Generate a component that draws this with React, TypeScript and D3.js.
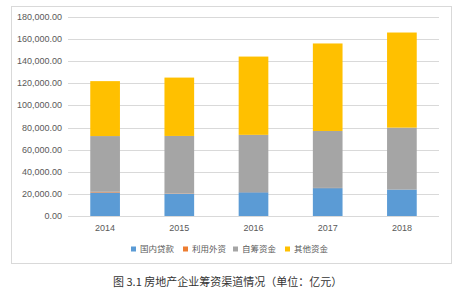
import React from "react";
import * as d3 from "d3";

const years = ["2014", "2015", "2016", "2017", "2018"];
const seriesNames = ["国内贷款", "利用外资", "自筹资金", "其他资金"];
const domesticLoans = [21243, 20214, 21512, 25242, 24005];
const foreignCapital = [640, 297, 140, 168, 108];
const selfRaised = [50420, 51900, 51750, 51500, 55831];
const otherFunds = [49690, 52790, 70810, 79150, 86019];
const yTicks = [0, 20000, 40000, 60000, 80000, 100000, 120000, 140000, 160000, 180000];
const colors = ["#5B9BD5", "#ED7D31", "#A5A5A5", "#FFC000"];
const caption = "图 3.1  房地产企业筹资渠道情况（单位：亿元）";

export default function App() {
  const W = 458, H = 296;
  const x0 = 68, x1 = 439, yTop = 17, yBot = 216;
  const x = d3.scaleBand().domain(years).range([x0, x1]).paddingInner(0.6).paddingOuter(0.3);
  const y = d3.scaleLinear().domain([0, 180000]).range([yBot, yTop]);
  const rows = years.map((yr, i) => ({
    year: yr,
    s0: domesticLoans[i],
    s1: foreignCapital[i],
    s2: selfRaised[i],
    s3: otherFunds[i],
  }));
  const stack = d3.stack<any>().keys(["s0", "s1", "s2", "s3"])(rows);
  const fmt = d3.format(",.2f");
  const legendX = [131, 183, 233, 285];
  return (
    <svg width={W} height={H} style={{ position: "absolute", left: 0, top: 0, background: "#fff" }}>
      <rect x={11.5} y={6.5} width={440} height={257} fill="#fff" stroke="#d9d9d9" />
      {yTicks.map((t) => (
        <g key={t}>
          <line x1={x0} x2={x1} y1={Math.round(y(t)) + 0.5} y2={Math.round(y(t)) + 0.5} stroke="#d9d9d9" />
          <text x={62} y={y(t) + 3} textAnchor="end" fontSize={9} fill="#595959" fontFamily="Liberation Sans, Arial, sans-serif">
            {fmt(t)}
          </text>
        </g>
      ))}
      {stack.map((layer, li) => (
        <g key={li} fill={colors[li]}>
          {layer.map((d: any, i: number) => (
            <rect key={i} x={x(years[i])} width={x.bandwidth()} y={y(d[1])} height={y(d[0]) - y(d[1])} />
          ))}
        </g>
      ))}
      {years.map((yr) => (
        <text key={yr} x={(x(yr) as number) + x.bandwidth() / 2} y={231} textAnchor="middle" fontSize={9} fill="#595959" fontFamily="Liberation Sans, Arial, sans-serif">
          {yr}
        </text>
      ))}
      {seriesNames.map((n, i) => (
        <g key={n}>
          <rect x={legendX[i]} y={246.5} width={5} height={5} fill={colors[i]} />
          <text x={legendX[i] + 9} y={252} fontSize={8.5} fill="#595959" fontFamily="Noto Sans CJK SC, sans-serif">
            {n}
          </text>
        </g>
      ))}
      <text x={113} y={286} fontSize={11} fill="#333" fontFamily="Noto Sans CJK SC, sans-serif">
        {caption}
      </text>
    </svg>
  );
}
